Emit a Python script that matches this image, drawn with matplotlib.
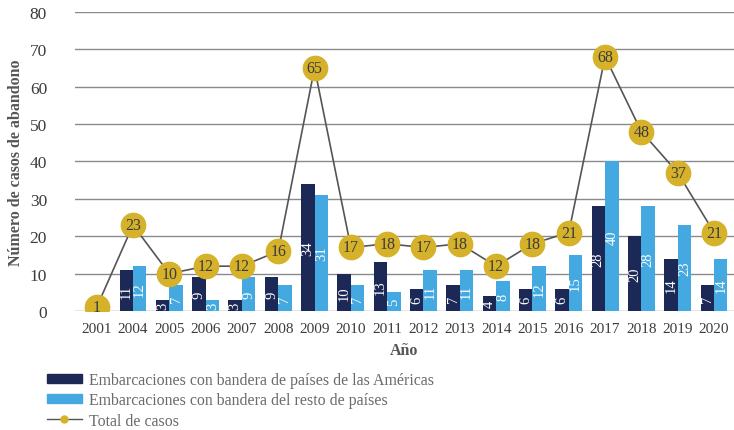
import numpy as np
import matplotlib.pyplot as plt
from matplotlib.lines import Line2D
from matplotlib.patches import Patch

plt.rcParams['font.family'] = ['Liberation Serif', 'DejaVu Serif']

anios = ['2001', '2004', '2005', '2006', '2007', '2008', '2009', '2010', '2011',
         '2012', '2013', '2014', '2015', '2016', '2017', '2018', '2019', '2020']
americas = [0, 11, 3, 9, 3, 9, 34, 10, 13, 6, 7, 4, 6, 6, 28, 20, 14, 7]
resto = [0, 12, 7, 3, 9, 7, 31, 7, 5, 11, 11, 8, 12, 15, 40, 28, 23, 14]
total = [1, 23, 10, 12, 12, 16, 65, 17, 18, 17, 18, 12, 18, 21, 68, 48, 37, 21]

c_am = '#1c2957'
c_re = '#43a9e0'
c_tot = '#d6b12a'
c_txt = '#3c3c3c'

fig = plt.figure(figsize=(7.34, 4.31), dpi=100)
ax = fig.add_axes([0.102, 0.276, 0.898, 0.694])

x = np.arange(len(anios))
w = 0.37

ax.set_axisbelow(True)
ax.yaxis.grid(True, color='#8a8a8a', linewidth=1.0)
b1 = ax.bar(x - w / 2, americas, w, color=c_am)
b2 = ax.bar(x + w / 2, resto, w, color=c_re)

# etiquetas verticales dentro de las barras
for bars, vals in ((b1, americas), (b2, resto)):
    for b, v in zip(bars, vals):
        if v > 0:
            ax.text(b.get_x() + b.get_width() / 2, v / 2, str(v), rotation=90,
                    ha='center', va='center', color='white', fontsize=10.5)

ax.plot(x, total, color='#555555', linewidth=1.2, marker='o', markersize=17.5,
        markerfacecolor=c_tot, markeredgecolor=c_tot, zorder=3)
for xi, t in zip(x, total):
    ax.text(xi, t, str(t), ha='center', va='center', color=c_txt,
            fontsize=11.5, zorder=4)

ax.set_ylim(0, 80)
ax.set_xlim(-0.6, len(anios) - 0.45)
ax.set_yticks(range(0, 81, 10))
ax.set_xticks(x)
ax.set_xticklabels(anios)
ax.tick_params(axis='both', length=0, labelsize=11, colors=c_txt)
ax.tick_params(axis='y', labelsize=12.5, pad=20)
ax.tick_params(axis='x', pad=8)
for s in ax.spines.values():
    s.set_visible(False)

ax.set_xlabel('Año', fontweight='bold', color='#555555', fontsize=11.5, labelpad=5)
ax.set_ylabel('Número de casos de abandono', fontweight='bold', color='#555555',
              fontsize=11.5, labelpad=4)

handles = [Patch(color=c_am), Patch(color=c_re),
           Line2D([0], [0], color='#555555', linewidth=1, marker='o',
                  markersize=5, markerfacecolor=c_tot, markeredgecolor=c_tot)]
labels = ['Embarcaciones con bandera de países de las Américas',
          'Embarcaciones con bandera del resto de países',
          'Total de casos']
leg = fig.legend(handles, labels, loc='upper left', bbox_to_anchor=(0.055, 0.15),
                 frameon=False, fontsize=11.4, handlelength=2.2, handleheight=0.5,
                 labelspacing=0.28, handletextpad=0.5, borderaxespad=0)
for t in leg.get_texts():
    t.set_color('#6a6a6a')

fig.savefig('out.png', dpi=100)
